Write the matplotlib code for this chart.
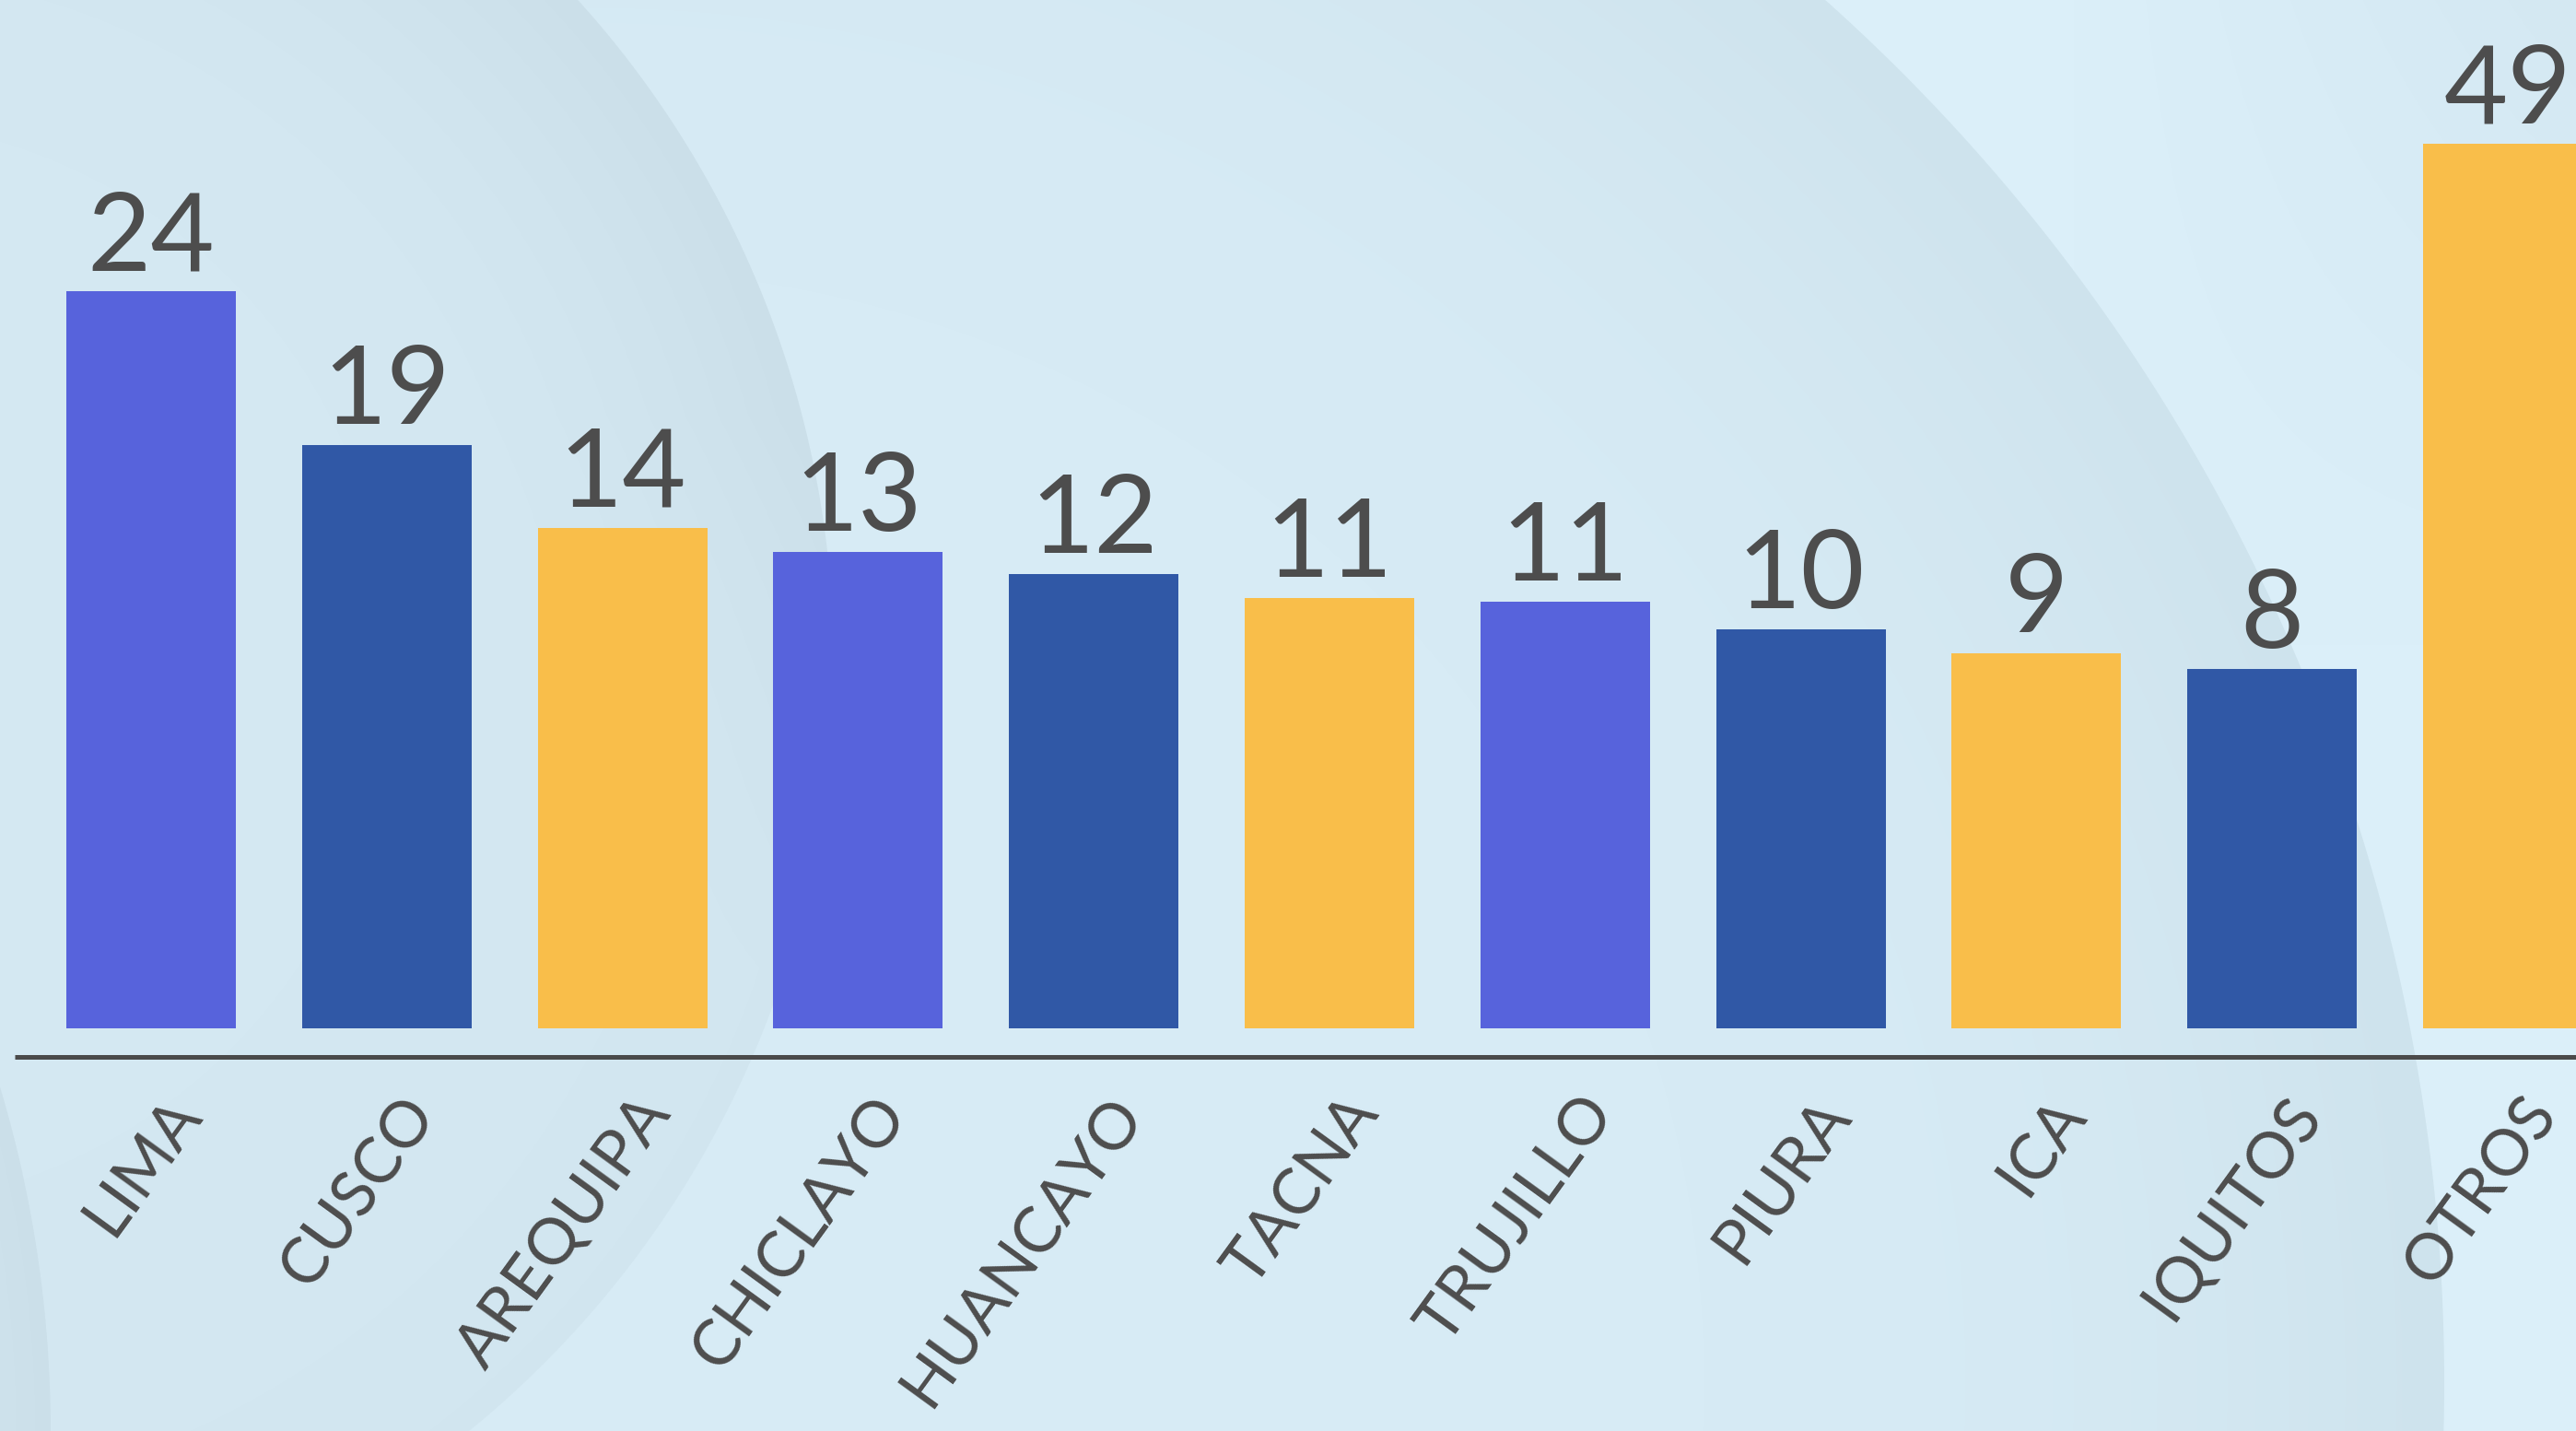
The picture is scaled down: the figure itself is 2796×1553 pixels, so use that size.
import numpy as np
import matplotlib
matplotlib.use("Agg")
import matplotlib.pyplot as plt

# ---------------- data ----------------
categories = ["LIMA", "CUSCO", "AREQUIPA", "CHICLAYO", "HUANCAYO", "TACNA",
              "TRUJILLO", "PIURA", "ICA", "IQUITOS", "OTROS"]
value_labels = [24, 19, 14, 13, 12, 11, 11, 10, 9, 8, 49]
# bar heights as drawn in the picture (same units as LIMA = 24)
bar_heights = [24.0, 19.0, 16.3, 15.5, 14.8, 14.0, 13.9, 13.0, 12.2, 11.7, 28.8]
bar_colors = ["#5763dc", "#3058a6", "#f9be4a", "#5763dc", "#3058a6", "#f9be4a",
              "#5763dc", "#3058a6", "#f9be4a", "#3058a6", "#f9be4a"]

TEXT = "#4d4d4d"
FONT = ["Lato", "DejaVu Sans"]

W, H = 2796, 1553
DPI = 100

# ---------------- background (decorative circles) ----------------
yy, xx = np.mgrid[0:H, 0:W].astype(np.float32)
img = np.empty((H, W, 3), dtype=np.float32)
out_c = np.array([219, 239, 249], np.float32)
tr_c = np.array([212, 232, 242], np.float32)
g = (np.clip((xx - 2250) / 550, 0, 1) * np.clip((700 - yy) / 700, 0, 1))
img[:] = out_c + (tr_c - out_c) * g[..., None]


def paint(cx, cy, r, c_in, c_edge, t0, fade=None):
    d = np.hypot(xx - cx, yy - cy) / r
    w = np.clip((d - t0) / (1 - t0), 0, 1) ** 2
    if fade is not None:
        w = w * fade
    c_in = np.array(c_in, np.float32)
    c_edge = np.array(c_edge, np.float32)
    col = c_in + (c_edge - c_in) * w[..., None]
    m = d < 1
    a = np.clip((1 - d) * r, 0, 1)[..., None]
    img[:] = np.where(m[..., None], img * (1 - a) + col * a, img)


paint(641, 1500, 2012, (215, 235, 245), (206, 227, 237), 0.6)
paint(-169, 720, 1074, (212, 232, 242), (203, 223, 233), 0.55,
      fade=np.clip((1250 - yy) / 800, 0.25, 1))
paint(-1244, 1553, 1299, (207, 227, 237), (203, 223, 233), 0.9)
img = np.clip(img / 255.0, 0, 1)

fig = plt.figure(figsize=(W / DPI, H / DPI), dpi=DPI)
bg = fig.add_axes([0, 0, 1, 1], zorder=0)
bg.imshow(img, extent=(0, W, H, 0), aspect="auto", interpolation="nearest")
bg.set_axis_off()

# ---------------- main axes ----------------
ax = fig.add_axes([0, 0, 1, 1], zorder=1)
ax.patch.set_alpha(0)
px_x = 255.8          # pixels per category
x0 = 164.0            # first bar centre in pixels
px_y = 800 / 24.0     # pixels per unit
base_px = 1116.0      # bar baseline from top
ax.set_xlim(-x0 / px_x, (W - x0) / px_x)
ax.set_ylim(-(H - base_px) / px_y, base_px / px_y)
ax.set_axis_off()

xs = np.arange(len(categories))
ax.bar(xs, bar_heights, width=184 / px_x, color=bar_colors, linewidth=0)

axis_y = -(1147 - base_px) / px_y
ax.axhline(axis_y, xmin=16 / W, xmax=1, color="#4a4a4a", lw=3.6,
           solid_capstyle="butt")

for x, h, v in zip(xs, bar_heights, value_labels):
    ax.annotate(str(v), xy=(x, h), xytext=(0, 23), textcoords="offset pixels",
                ha="center", va="baseline", fontsize=86, color=TEXT,
                family=FONT)

for x, name in zip(xs, categories):
    ax.annotate(name, xy=(x, axis_y), xytext=(14, -32),
                textcoords="offset pixels", rotation=54,
                rotation_mode="anchor", ha="right", va="top",
                fontsize=50, color=TEXT, family=FONT)

fig.savefig("out.png", dpi=DPI)
